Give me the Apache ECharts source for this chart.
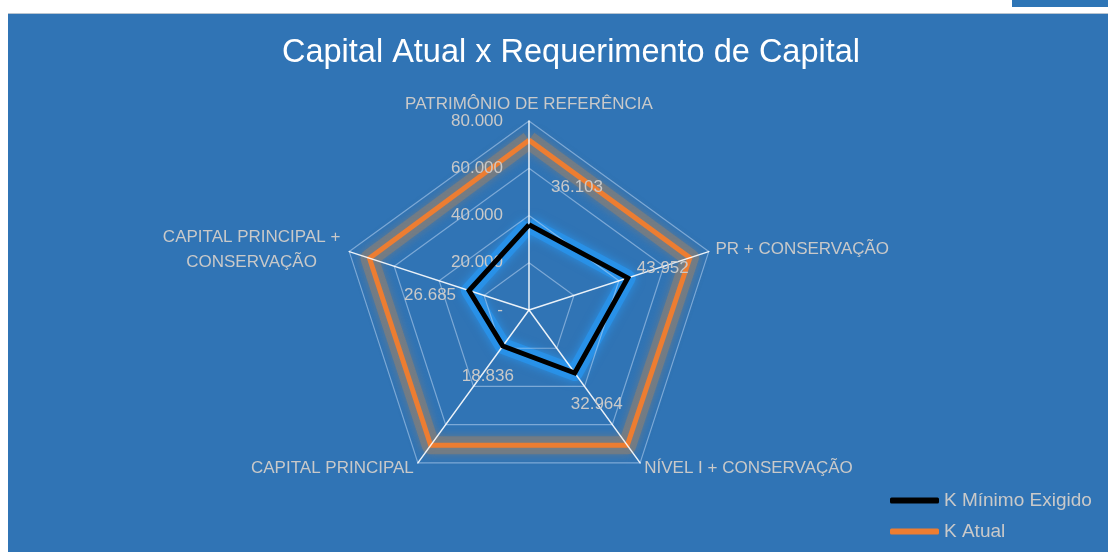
<!DOCTYPE html>
<html>
<head>
<meta charset="utf-8">
<script src="https://cdn.jsdelivr.net/npm/echarts@6/dist/echarts.min.js"></script>
<style>
    html, body { margin: 0; padding: 0; background: #ffffff; }
    #topBar { position: absolute; right: 0; top: 0; width: 96px; height: 7px; background: #2E75B6; }
    #grafico { position: absolute; left: 8px; top: 13px; width: 1100px; height: 539px; background: #3074B5; border-top: 1px solid #b8c4d0; }
</style>
</head>
<body>
<div id="topBar"></div>
<div id="grafico"></div>
<script>
// ordem do echarts: anti-horario a partir do topo
var indicadores = ['PATRIMÔNIO DE REFERÊNCIA', 'CAPITAL PRINCIPAL +\nCONSERVAÇÃO', 'CAPITAL PRINCIPAL', 'NÍVEL I + CONSERVAÇÃO', 'PR + CONSERVAÇÃO'];
var kMinimo = [36103, 26685, 18836, 32964, 43952];
var kAtual = [71900, 71000, 70800, 70800, 71600];
var eixoMax = 80000;
var nomesSeries = ['K Mínimo Exigido', 'K Atual'];

// deslocamento dos rotulos (estilo Excel)
var rotuloOffset = [[48, -37], [-39, 5], [-15, 30], [22, 31], [35, -10]];

var cinza = '#C9C9C9';
var fonte = '"Liberation Sans", Arial, sans-serif';

function formataNumero(v) {
    if (v == 0) return '-';
    return String(v).replace(/\B(?=(\d{3})+(?!\d))/g, '.');
}

var grafico = echarts.init(document.getElementById('grafico'));

var series = [
    // brilho cinza sob a linha laranja
    {
        type: 'radar', silent: true, symbol: 'none', z: 1,
        data: [{ value: kAtual }],
        lineStyle: { color: 'rgba(125,125,125,0.75)', width: 18, shadowBlur: 10, shadowColor: 'rgba(125,125,125,0.9)' }
    },
    // brilho azul sob a linha preta
    {
        type: 'radar', silent: true, symbol: 'none', z: 1,
        data: [{ value: kMinimo }],
        lineStyle: { color: 'rgba(40,150,240,0.7)', width: 16, shadowBlur: 10, shadowColor: 'rgba(40,160,255,0.9)' }
    },
    {
        name: nomesSeries[1], type: 'radar', symbol: 'none', z: 2,
        data: [{ value: kAtual, name: nomesSeries[1] }],
        itemStyle: { color: '#ED7D31' },
        lineStyle: { color: '#ED7D31', width: 5, join: 'miter' }
    },
    {
        name: nomesSeries[0], type: 'radar', symbol: 'none', z: 5,
        data: [{ value: kMinimo, name: nomesSeries[0] }],
        itemStyle: { color: '#000000' },
        lineStyle: { color: '#000000', width: 5, join: 'miter' }
    }
];

// uma serie invisivel por rotulo, para posicionar cada valor
rotuloOffset.forEach(function (off, i) {
    series.push({
        type: 'radar', silent: true, symbol: 'circle', symbolSize: 1, z: 6,
        data: [{ value: kMinimo }],
        itemStyle: { color: 'rgba(0,0,0,0)' },
        lineStyle: { width: 0, opacity: 0 },
        label: {
            show: true, position: 'inside', offset: off,
            color: cinza, fontSize: 17, fontFamily: fonte,
            formatter: function (p) {
                var v = Array.isArray(p.value) ? p.value[i] : p.value;
                return v === kMinimo[i] ? formataNumero(v) : '';
            }
        }
    });
});

var option = {
    animation: false,
    title: {
        text: 'Capital Atual x Requerimento de Capital',
        left: 558, top: 18, textAlign: 'center',
        textStyle: { color: '#ffffff', fontSize: 32.5, fontWeight: 'normal', fontFamily: fonte }
    },
    legend: {
        data: nomesSeries,
        orient: 'vertical',
        left: 877, top: 472,
        itemWidth: 49, itemHeight: 6, itemGap: 12,
        icon: 'roundRect',
        textStyle: { color: cinza, fontSize: 19, fontFamily: fonte }
    },
    radar: {
        z: 4,
        center: [521, 296],
        radius: 189,
        startAngle: 90,
        shape: 'polygon',
        splitNumber: 4,
        indicator: indicadores.map(function (nome, i) {
            var ind = { name: nome, min: 0, max: eixoMax };
            if (i > 0) ind.axisLabel = { show: false };
            return ind;
        }),
        axisName: {
            color: cinza, fontSize: 17, fontFamily: fonte,
            formatter: function (nome) {
                if (nome.indexOf('\n') < 0) return nome;
                return nome.split('\n').map(function (l) { return '{c|' + l + '}'; }).join('\n');
            },
            rich: {
                c: { width: 182, align: 'center', lineHeight: 25, color: cinza, fontSize: 17, fontFamily: fonte }
            }
        },
        nameGap: 7,
        axisLine: { lineStyle: { color: 'rgba(255,255,255,0.9)', width: 1.5 } },
        splitLine: { lineStyle: { color: 'rgba(200,222,248,0.5)', width: 1.2 } },
        splitArea: { show: false },
        axisTick: { show: false },
        axisLabel: {
            show: true, margin: 26, color: cinza, fontSize: 17, fontFamily: fonte,
            showMinLabel: true, showMaxLabel: true,
            formatter: formataNumero
        }
    },
    series: series
};

grafico.setOption(option);

window.onresize = function () {
    grafico.resize();
};
</script>
</body>
</html>
